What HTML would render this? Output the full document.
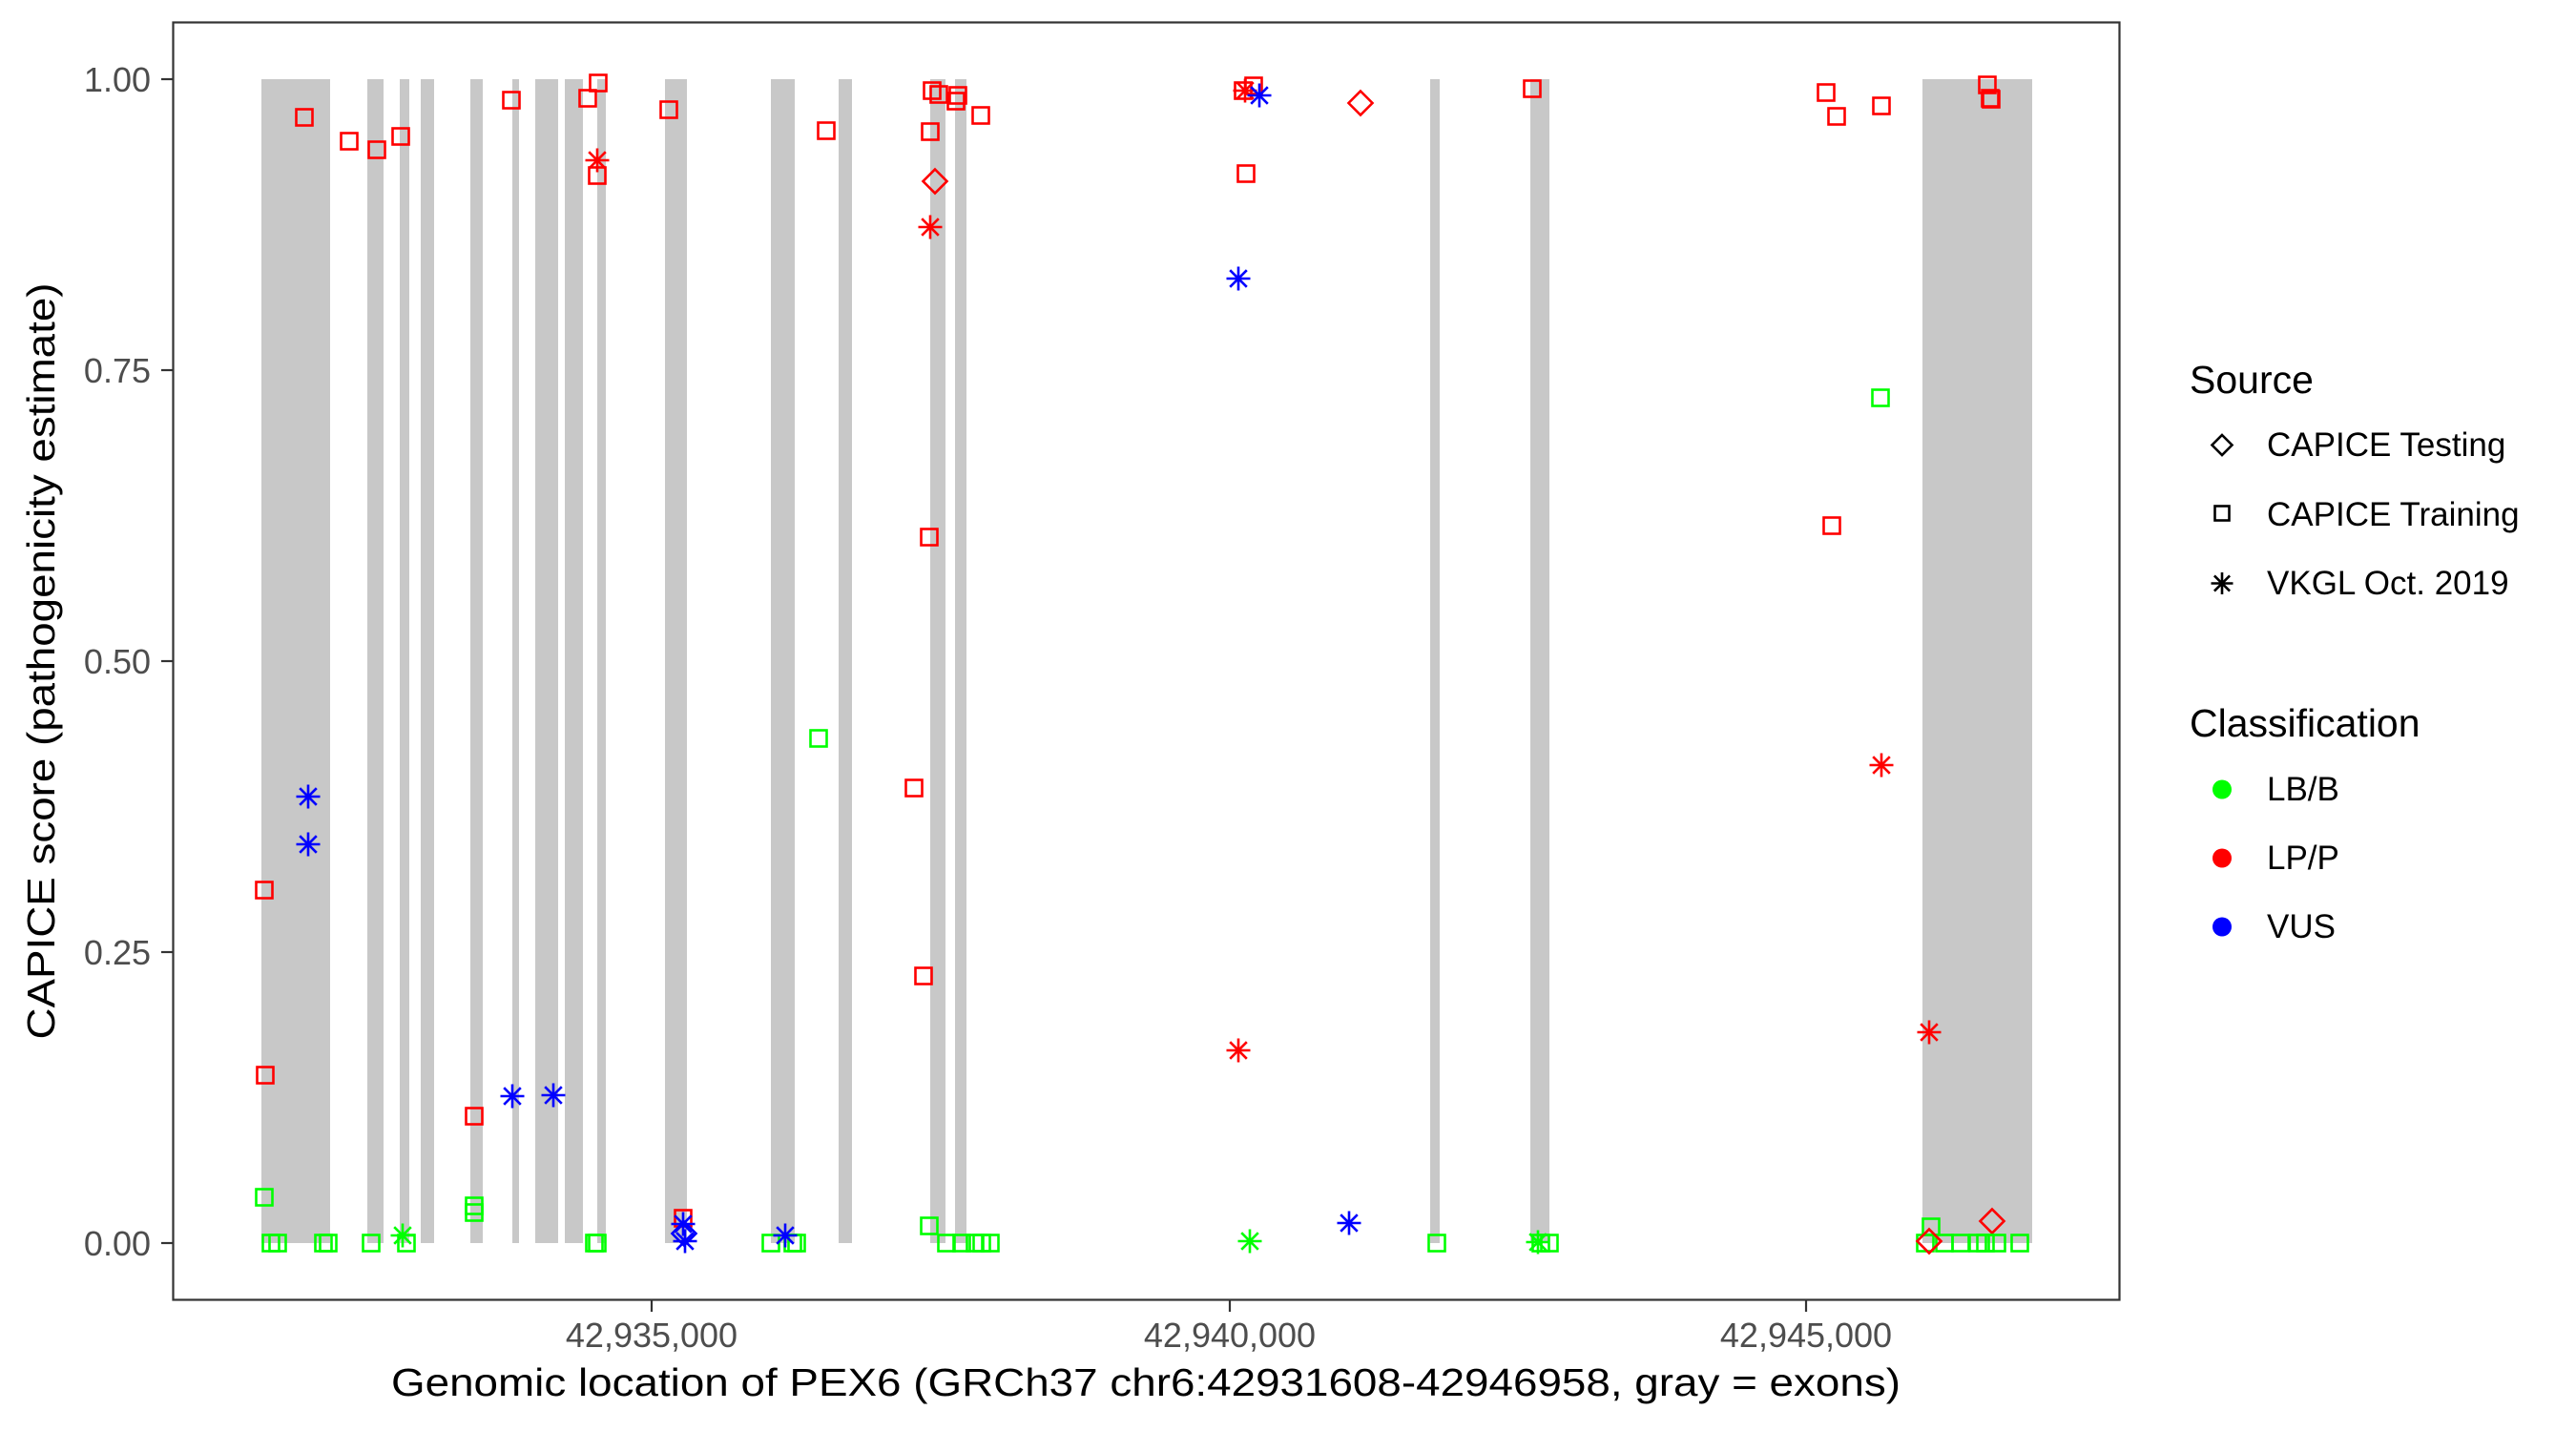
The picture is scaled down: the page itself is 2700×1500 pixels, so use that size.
<!DOCTYPE html>
<html><head><meta charset="utf-8"><style>html,body{margin:0;padding:0;background:#fff}svg{display:block}</style></head>
<body>
<svg width="2700" height="1500" viewBox="0 0 2700 1500" xmlns="http://www.w3.org/2000/svg" font-family="Liberation Sans, Arial, sans-serif">
<defs>
<g id="sq"><rect x="-8.5" y="-8.5" width="17" height="17" fill="none" stroke-width="2.6"/></g>
<g id="as"><path d="M0,-12.5V12.5M-12.5,0H12.5M-8.8,-8.8L8.8,8.8M-8.8,8.8L8.8,-8.8" fill="none" stroke-width="2.6"/></g>
<g id="di"><path d="M0,-12.5L12.5,0L0,12.5L-12.5,0Z" fill="none" stroke-width="2.6"/></g>
</defs>
<rect width="2700" height="1500" fill="#fff"/>
<g fill="#C8C8C8">
<rect x="274" y="83" width="72" height="1220"/>
<rect x="385" y="83" width="17" height="1220"/>
<rect x="419" y="83" width="10" height="1220"/>
<rect x="441" y="83" width="14" height="1220"/>
<rect x="493" y="83" width="13" height="1220"/>
<rect x="537" y="83" width="7" height="1220"/>
<rect x="561" y="83" width="24" height="1220"/>
<rect x="592" y="83" width="19" height="1220"/>
<rect x="626" y="83" width="9" height="1220"/>
<rect x="697" y="83" width="23" height="1220"/>
<rect x="808" y="83" width="25" height="1220"/>
<rect x="879" y="83" width="14" height="1220"/>
<rect x="975" y="83" width="16" height="1220"/>
<rect x="1001" y="83" width="12" height="1220"/>
<rect x="1499" y="83" width="10" height="1220"/>
<rect x="1604" y="83" width="20" height="1220"/>
<rect x="2015" y="83" width="115" height="1220"/>
</g>
<g stroke="#FF0000">
<use href="#sq" x="319" y="123"/><use href="#sq" x="366" y="148"/><use href="#sq" x="395" y="157"/><use href="#sq" x="420" y="143"/>
<use href="#sq" x="536" y="105"/><use href="#sq" x="616" y="103"/><use href="#sq" x="627" y="87"/><use href="#sq" x="626" y="184"/>
<use href="#sq" x="701" y="115"/><use href="#sq" x="866" y="137"/>
<use href="#sq" x="277" y="933"/><use href="#sq" x="278" y="1127"/><use href="#sq" x="497" y="1170"/><use href="#sq" x="716" y="1277"/>
<use href="#sq" x="977" y="95"/><use href="#sq" x="984" y="99"/><use href="#sq" x="1004" y="100"/><use href="#sq" x="1002" y="106"/>
<use href="#sq" x="1028" y="121"/><use href="#sq" x="975" y="138"/><use href="#sq" x="974" y="563"/>
<use href="#sq" x="1303" y="95"/><use href="#sq" x="1314" y="90"/><use href="#sq" x="1306" y="182"/><use href="#sq" x="1606" y="93"/>
<use href="#sq" x="958" y="826"/><use href="#sq" x="968" y="1023"/>
<use href="#sq" x="1914" y="97"/><use href="#sq" x="1925" y="122"/><use href="#sq" x="1972" y="111"/><use href="#sq" x="2083" y="89"/><use href="#sq" x="2086" y="103"/><use href="#sq" x="2087" y="104"/>
<use href="#sq" x="1920" y="551"/>
<use href="#as" x="626" y="168"/><use href="#as" x="975" y="238"/><use href="#as" x="1305" y="95"/><use href="#as" x="1298" y="1101"/>
<use href="#as" x="1972" y="802"/><use href="#as" x="2022" y="1082"/>
<use href="#di" x="980" y="190"/><use href="#di" x="1426" y="108"/><use href="#di" x="2088" y="1280"/>
</g>
<g stroke="#00FF00">
<use href="#sq" x="858" y="774"/><use href="#sq" x="277" y="1255"/><use href="#sq" x="497" y="1264"/><use href="#sq" x="497" y="1271"/>
<use href="#sq" x="284" y="1303"/><use href="#sq" x="291" y="1303"/><use href="#sq" x="339" y="1303"/><use href="#sq" x="344" y="1303"/>
<use href="#sq" x="389" y="1303"/><use href="#sq" x="426" y="1303"/><use href="#sq" x="623" y="1303"/><use href="#sq" x="626" y="1303"/>
<use href="#sq" x="808" y="1303"/><use href="#sq" x="831" y="1303"/><use href="#sq" x="835" y="1303"/>
<use href="#sq" x="974" y="1285"/><use href="#sq" x="992" y="1303"/><use href="#sq" x="1008" y="1303"/><use href="#sq" x="1022" y="1303"/>
<use href="#sq" x="1029" y="1303"/><use href="#sq" x="1038" y="1303"/><use href="#sq" x="1506" y="1303"/><use href="#sq" x="1615" y="1303"/><use href="#sq" x="1624" y="1303"/>
<use href="#sq" x="1971" y="417"/><use href="#sq" x="2024" y="1286"/>
<use href="#sq" x="2018" y="1303"/><use href="#sq" x="2038" y="1303"/><use href="#sq" x="2055" y="1303"/><use href="#sq" x="2073" y="1303"/>
<use href="#sq" x="2081" y="1303"/><use href="#sq" x="2093" y="1303"/><use href="#sq" x="2117" y="1303"/>
<use href="#as" x="422" y="1295"/><use href="#as" x="1310" y="1301"/><use href="#as" x="1612" y="1302"/>
</g>
<g stroke="#FF0000"><use href="#di" x="2022" y="1301"/></g>
<g stroke="#0000FF">
<use href="#as" x="323" y="835"/><use href="#as" x="323" y="885"/><use href="#as" x="537" y="1149"/><use href="#as" x="580" y="1148"/>
<use href="#as" x="716" y="1283"/><use href="#as" x="718" y="1301"/><use href="#di" x="717" y="1293"/><use href="#as" x="823" y="1295"/>
<use href="#as" x="1320" y="100"/><use href="#as" x="1298" y="292"/><use href="#as" x="1414" y="1282"/>
</g>
<rect x="181.5" y="23.5" width="2040" height="1339" fill="none" stroke="#333" stroke-width="2.2"/>
<g stroke="#333" stroke-width="2.2">
<line x1="169" y1="83" x2="181" y2="83"/><line x1="169" y1="388" x2="181" y2="388"/><line x1="169" y1="693" x2="181" y2="693"/>
<line x1="169" y1="998" x2="181" y2="998"/><line x1="169" y1="1303" x2="181" y2="1303"/>
<line x1="683" y1="1363" x2="683" y2="1375"/><line x1="1289" y1="1363" x2="1289" y2="1375"/><line x1="1893" y1="1363" x2="1893" y2="1375"/>
</g>
<g fill="#4D4D4D" font-size="36" text-anchor="end">
<text x="158" y="96">1.00</text><text x="158" y="401">0.75</text><text x="158" y="706">0.50</text><text x="158" y="1011">0.25</text><text x="158" y="1316">0.00</text>
</g>
<g fill="#4D4D4D" font-size="36" text-anchor="middle">
<text x="683" y="1412">42,935,000</text><text x="1289" y="1412">42,940,000</text><text x="1893" y="1412">42,945,000</text>
</g>
<text x="1201" y="1463" font-size="41" text-anchor="middle" textLength="1582" lengthAdjust="spacingAndGlyphs">Genomic location of PEX6 (GRCh37 chr6:42931608-42946958, gray = exons)</text>
<text transform="translate(57,693) rotate(-90)" font-size="41" text-anchor="middle" textLength="793" lengthAdjust="spacingAndGlyphs">CAPICE score (pathogenicity estimate)</text>
<text x="2295" y="412" font-size="41">Source</text>
<g font-size="35">
<text x="2376" y="478">CAPICE Testing</text><text x="2376" y="551">CAPICE Training</text><text x="2376" y="623">VKGL Oct. 2019</text>
<text x="2376" y="839">LB/B</text><text x="2376" y="911">LP/P</text><text x="2376" y="983">VUS</text>
</g>
<g stroke="#000" fill="none" stroke-width="2.6">
<path d="M2329,456L2339.5,466.5L2329,477L2318.5,466.5Z"/>
<rect x="2321.5" y="530.5" width="15" height="15"/>
<path d="M2329,600V623M2317.5,611.5H2340.5M2320.9,603.4L2337.1,619.6M2320.9,619.6L2337.1,603.4"/>
</g>
<text x="2295" y="772" font-size="41">Classification</text>
<circle cx="2329" cy="827.5" r="10" fill="#00FF00"/>
<circle cx="2329" cy="899.5" r="10" fill="#FF0000"/>
<circle cx="2329" cy="971.5" r="10" fill="#0000FF"/>
</svg>
</body></html>
